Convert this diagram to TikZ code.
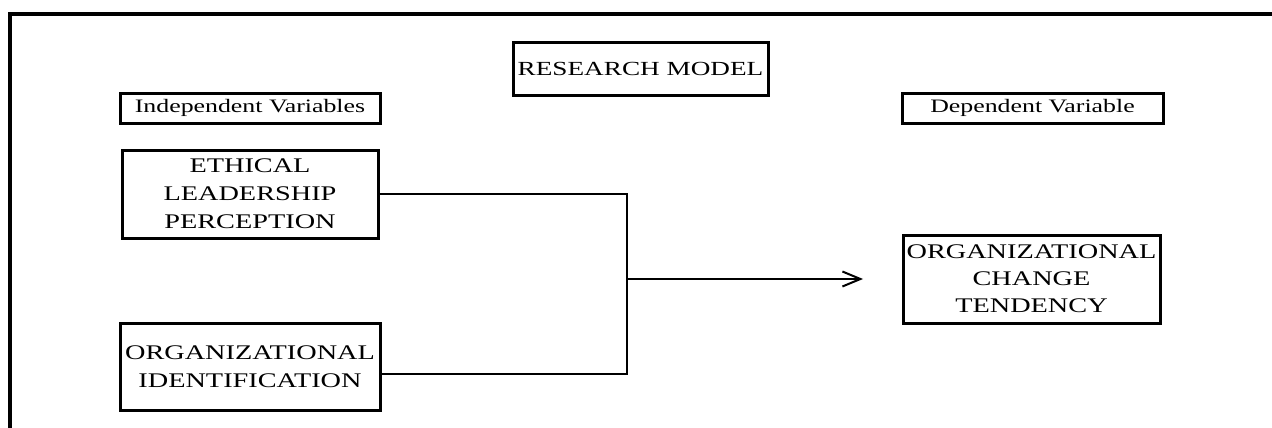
\documentclass[tikz,border=0pt]{standalone}
\usepackage{fontspec}
\setmainfont{Liberation Serif}[FakeStretch=1.36]
\usetikzlibrary{arrows.meta}

\tikzset{
  varbox/.style={draw, line width=3pt, inner sep=0pt, align=center,
    font=\fontsize{20.8}{28}\selectfont},
  tagbox/.style={draw, line width=3pt, inner sep=0pt,
    font=\fontsize{19}{22}\selectfont},
  link/.style={line width=2pt},
  flow/.style={line width=2pt, -{Straight Barb[length=18pt,width=15pt,line width=2pt]}},
}

\begin{document}
\begin{tikzpicture}[x=1pt, y=-1pt]
  \useasboundingbox (0,0) rectangle (1272,428);

  % open outer frame: left and top sides only
  \draw[line width=4pt] (10,428) -- (10,14) -- (1272,14);

  % headings
  \node[tagbox, minimum width=255pt, minimum height=52pt,
        font=\fontsize{20}{22}\selectfont] (title) at (640.5,69) {RESEARCH MODEL};
  \node[tagbox, minimum width=260pt, minimum height=30pt] (indep) at (250,108) {Independent Variables};
  \node[tagbox, minimum width=261pt, minimum height=30pt] (dep) at (1032.5,108) {Dependent Variable};

  % variables
  \node[varbox, minimum width=256pt, minimum height=88pt] (eth) at (250,194)
    {ETHICAL\\LEADERSHIP\\PERCEPTION};
  \node[varbox, minimum width=260pt, minimum height=87pt] (oid) at (250,366.5)
    {ORGANIZATIONAL\\IDENTIFICATION};
  \node[varbox, minimum width=257pt, minimum height=88pt,
        font=\fontsize{20.8}{27}\selectfont] (oct) at (1031.5,279)
    {ORGANIZATIONAL\\CHANGE\\TENDENCY};

  % joining lines and arrow
  \coordinate (join) at (627,279);
  \coordinate (tip) at (863,279);
  \draw[link] (eth.east) -| (join) |- ([yshift=-7pt]oid.east);
  \draw[flow] (join) -- (tip);
\end{tikzpicture}
\end{document}
